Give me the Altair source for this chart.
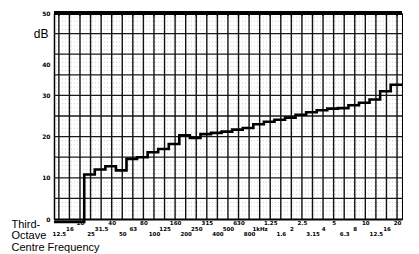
import altair as alt
import pandas as pd

# Third-octave band centre labels (12.5 Hz ... 20 kHz)
band_labels = ["12.5", "16", "20", "25", "31.5", "40", "50", "63", "80", "100",
               "125", "160", "200", "250", "315", "400", "500", "630", "800", "1kHz",
               "1.25", "1.6", "2", "2.5", "3.15", "4", "5", "6.3", "8", "10",
               "12.5", "16", "20"]
# Recorded level per band (dB)
levels = [-0.7, -0.7, -0.7, 10.8, 12.0, 12.8, 11.8, 14.6, 15.0, 16.2,
          17.0, 18.2, 20.3, 19.7, 20.6, 20.9, 21.2, 21.7, 22.1, 23.0,
          23.6, 24.1, 24.6, 25.3, 25.9, 26.4, 26.8, 26.9, 27.6, 28.2,
          29.0, 31.0, 32.6]
y_ticks = [0, 10, 20, 30, 40, 50]

X_DOMAIN = [-0.46, 32.47]
STEP_SHIFT = 0.6

n = len(band_labels)
bands = pd.DataFrame({"band": list(range(n)), "db": [50] * n})

trace_x = [max(i - STEP_SHIFT, X_DOMAIN[0]) for i in range(n)] + [n - 0.5]
trace = pd.DataFrame({"band": trace_x, "db": levels + [levels[-1]]})

major = pd.DataFrame({"db": list(range(5, 50, 5))})
minor = pd.DataFrame({"db": [v for v in range(1, 50) if v % 5 != 0]})

x_scale = alt.Scale(domain=X_DOMAIN, nice=False, zero=False)
y_scale = alt.Scale(domain=[0, 50], nice=False, zero=False)

label_expr = "[" + ",".join("'%s'" % s for s in band_labels) + "][datum.value]"

x_axis = alt.Axis(
    values=list(range(n)), labelExpr=label_expr,
    title=["Third-", "Octave", "Centre Frequency"],
    titleX=-43, titleY=8, titleAlign="left", titleBaseline="alphabetic",
    titleFont="Liberation Sans", titleFontSize=11, titleFontWeight="normal",
    titleLineHeight=11.5, titleColor="black",
    labelFont="DejaVu Sans", labelFontSize=5.5, labelFontWeight="bold", labelColor="black",
    labelAngle=0, labelAlign="center", labelBaseline="top",
    labelPadding={"expr": "datum.value % 3 == 0 ? 12.5 : (datum.value % 3 == 1 ? 7 : 1)"},
    labelOverlap=False, labelFlush=False,
    ticks=False, grid=False, domain=True, domainColor="black", domainWidth=2,
)
y_axis = alt.Axis(
    values=y_ticks, title="dB", titleAngle=0, titleX=-6, titleY=20,
    titleAlign="right", titleBaseline="middle",
    titleFont="Liberation Sans", titleFontSize=12, titleFontWeight="normal", titleColor="black",
    labelFont="DejaVu Sans", labelFontSize=6, labelFontWeight="bold", labelColor="black",
    labelPadding=4,
    labelOffset={"condition": {"test": "datum.value == 40", "value": 10}, "value": 0},
    ticks=False, grid=False, domain=True, domainColor="black", domainWidth=1.5,
)

X = alt.X("band:Q", scale=x_scale, axis=x_axis)
Y = alt.Y("db:Q", scale=y_scale, axis=y_axis)

minor_rules = alt.Chart(minor).mark_rule(color="#999", strokeWidth=1, strokeDash=[1, 2], opacity=0.45).encode(y=Y)
major_rules = alt.Chart(major).mark_rule(color="#1a1a1a", strokeWidth=1.3).encode(y=Y)
vert_rules = alt.Chart(bands).mark_rule(color="#111", strokeWidth=1.4).encode(x=X)
top_marks = alt.Chart(bands).mark_point(shape="triangle-down", filled=True, size=14,
                                         color="black", opacity=1, yOffset=2).encode(x=X, y=Y)
top_border = alt.Chart(bands).mark_rule(color="black", strokeWidth=3).encode(y=alt.datum(50))
line = alt.Chart(trace).mark_line(interpolate="step-after", color="black", strokeWidth=2.6).encode(x=X, y=Y)

chart = alt.layer(minor_rules, major_rules, vert_rules, top_border, top_marks, line).properties(
    width=348, height=206,
    padding={"left": 54, "top": 13, "right": 17, "bottom": 35},
    autosize=alt.AutoSizeParams(type="none"),
    background="white",
).configure_view(stroke="black", strokeWidth=1)

chart.save("out.html", embed_options={"renderer": "svg", "actions": False})
